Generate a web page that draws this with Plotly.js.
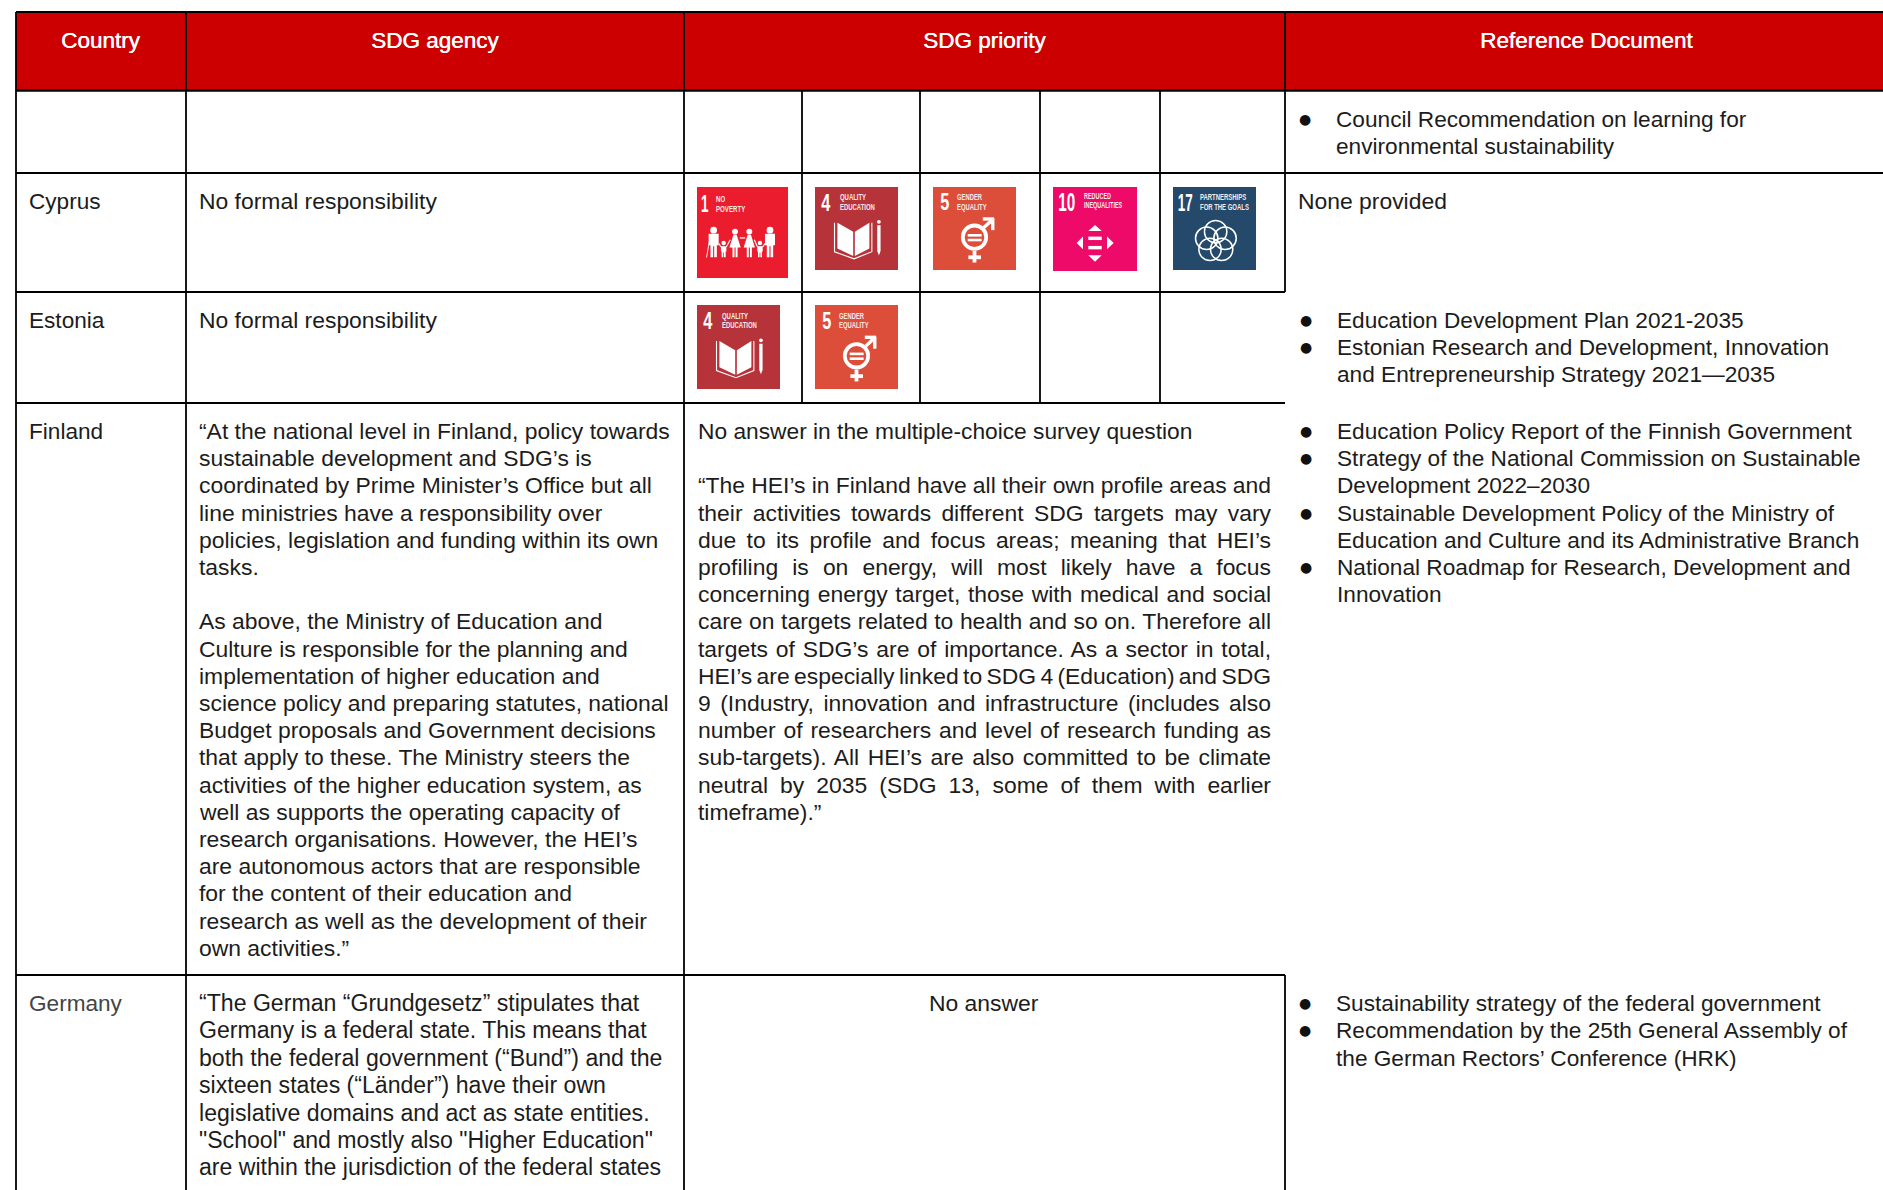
<!DOCTYPE html>
<html><head><meta charset="utf-8">
<script src="https://cdn.plot.ly/plotly-3.0.1.min.js"></script>
<style>html,body{margin:0;padding:0;background:#fff}#chart{width:1883px;height:1190px}</style>
</head><body><div id="chart"></div>
<script>
// ---------- content ----------
const headers = ['Country', 'SDG agency', 'SDG priority', 'Reference Document'];
const countries = ['Cyprus', 'Estonia', 'Finland', 'Germany'];
const agencyCyprus = ['No formal responsibility'];
const agencyEstonia = ['No formal responsibility'];
const agencyFinland = [
 '“At the national level in Finland, policy towards','sustainable development and SDG’s is',
 'coordinated by Prime Minister’s Office but all','line ministries have a responsibility over',
 'policies, legislation and funding within its own','tasks.','',
 'As above, the Ministry of Education and','Culture is responsible for the planning and',
 'implementation of higher education and','science policy and preparing statutes, national',
 'Budget proposals and Government decisions','that apply to these. The Ministry steers the',
 'activities of the higher education system, as','well as supports the operating capacity of',
 'research organisations. However, the HEI’s','are autonomous actors that are responsible',
 'for the content of their education and','research as well as the development of their','own activities.”'];
const agencyGermany = [
 '“The German “Grundgesetz” stipulates that','Germany is a federal state. This means that',
 'both the federal government (“Bund”) and the','sixteen states (“Länder”) have their own',
 'legislative domains and act as state entities.','"School" and mostly also "Higher Education"',
 'are within the jurisdiction of the federal states'];
const priorityFinlandLead = ['No answer in the multiple-choice survey question',''];
const priorityFinlandBody = [
 '“The HEI’s in Finland have all their own profile areas and','their activities towards different SDG targets may vary',
 'due to its profile and focus areas; meaning that HEI’s','profiling is on energy, will most likely have a focus',
 'concerning energy target, those with medical and social','care on targets related to health and so on. Therefore all',
 'targets of SDG’s are of importance. As a sector in total,','HEI’s are especially linked to SDG 4 (Education) and SDG',
 '9 (Industry, innovation and infrastructure (includes also','number of researchers and level of research funding as',
 'sub-targets). All HEI’s are also committed to be climate','neutral by 2035 (SDG 13, some of them with earlier'];
const priorityFinlandLast = ['timeframe).”'];
const priorityGermany = 'No answer';
const refsEU = [['Council Recommendation on learning for','environmental sustainability']];
const refsCyprus = 'None provided';
const refsEstonia = [['Education Development Plan 2021-2035'],
 ['Estonian Research and Development, Innovation','and Entrepreneurship Strategy 2021—2035']];
const refsFinland = [['Education Policy Report of the Finnish Government'],
 ['Strategy of the National Commission on Sustainable','Development 2022–2030'],
 ['Sustainable Development Policy of the Ministry of','Education and Culture and its Administrative Branch'],
 ['National Roadmap for Research, Development and','Innovation']];
const refsGermany = [['Sustainability strategy of the federal government'],
 ['Recommendation by the 25th General Assembly of','the German Rectors’ Conference (HRK)']];
const goalNumbers = ['1','4','5','10','17'];
const goalTitles = [['NO','POVERTY'],['QUALITY','EDUCATION'],['GENDER','EQUALITY'],['REDUCED','INEQUALITIES'],['PARTNERSHIPS','FOR THE GOALS']];
const goalColors = ['#EB1C2D','#B7333A','#DC4E3A','#EE0A69','#24496B'];
const cyprusGoals = [0,1,2,3,4];
const estoniaGoals = [1,2];

// ---------- layout constants ----------
const W=1883,H=1190;
const colX=[16,186,684,1285];
const subX=[802,920,1040,1160];
const rowY=[12,90.6,173,292,403,975];
const LH=27.2, LH_DE=27.38;
const FONT='"Liberation Sans", sans-serif', SIZE=22.9, SIZE_REF=22.65, SIZE_CTRY=22.6, INK='#1c1c1c';
const shapes=[], annotations=[], justified=[], condensed=[];
function line(x0,y0,x1,y1,w){shapes.push({type:'line',x0,y0,x1,y1,line:{color:'#000',width:w||1.8},layer:'above'});}
function txt(x,y,text,o){o=o||{};const a=o.anchor||'left';annotations.push({x,y,text,xref:'x',yref:'y',showarrow:false,
  xanchor:a,yanchor:'middle',align:a,borderpad:0,
  font:Object.assign({family:o.family||FONT,size:o.size||SIZE,color:o.color||INK,weight:o.weight||400},o.shadow?{shadow:o.shadow}:{})});
  return annotations.length-1;}
function block(x,y,lines,o){const lh=(o&&o.lh)||LH;lines.forEach((l,i)=>{if(l)txt(x,y+i*lh,l,o);});}
function bullets(xb,x,y,items,lh){lh=lh||LH;let n=0;items.forEach(it=>{txt(xb,y+n*lh,'●',{anchor:'center',size:14,family:'"DejaVu Sans",sans-serif',color:'#111'});
  it.forEach(l=>{txt(x,y+n*lh,l,{size:SIZE_REF});n++;});});}
function poly(pts,fill){shapes.push({type:'path',path:'M'+pts.map(p=>p.join(' ')).join('L')+'Z',fillcolor:fill,line:{width:0},layer:'above'});}

// header
shapes.push({type:'rect',x0:colX[0],x1:W,y0:rowY[0],y1:rowY[1],fillcolor:'#CC0000',line:{width:0},layer:'below'});
// grid
line(colX[0],rowY[0],W,rowY[0]);
line(colX[0],rowY[1],W,rowY[1],2.2);
line(colX[0],rowY[2],W,rowY[2]);
[3,4,5].forEach(i=>line(colX[0],rowY[i],colX[3],rowY[i]));
line(colX[0],rowY[0],colX[0],H);line(colX[1],rowY[0],colX[1],H);line(colX[2],rowY[0],colX[2],H);
line(colX[3],rowY[0],colX[3],rowY[3]);line(colX[3],rowY[5],colX[3],H);
subX.forEach(x=>line(x,rowY[1],x,rowY[4]));

// header text
const headCx=[100.5,434.5,984,1586];
headers.forEach((h,i)=>txt(headCx[i],40.3,h,{anchor:'center',color:'#fff',size:22.5,shadow:'0.5px 0 0 #fff'}));

// body text
const textX0=28, textX1=198, textX2=697, bx=1297;
[[countries[0],201],[countries[1],320],[countries[2],431],[countries[3],1003]].forEach((c,i)=>
  txt(textX0,c[1],c[0],{size:SIZE_CTRY,color:i===3?'#444':INK}));
block(textX1,201,agencyCyprus);block(textX1,320,agencyEstonia);block(textX1,431,agencyFinland);
block(textX1,1003,agencyGermany,{lh:LH_DE,size:23.1});
block(textX2,431,priorityFinlandLead,{size:22.75});
priorityFinlandBody.forEach((l,i)=>justified.push(txt(textX2,431+(i+2)*LH,l)));
block(textX2,431+14*LH,priorityFinlandLast);
txt(984,1003,priorityGermany,{anchor:'center'});
bullets(1305,1335,119,refsEU,27.4);
txt(bx,201,refsCyprus);
bullets(1306,1336,320,refsEstonia,27);
bullets(1306,1336,431,refsFinland);
bullets(1305,1335,1003,refsGermany,LH_DE);

// SDG icons: number and title placement inside each tile, as fractions of the tile
const numEndU=[.135,.21,.20,.27,.253], numV=[.18,.19,.18,.18,.185], numK=[.56,.68,.68,.58,.56], numSize=[22,24,24,26,24];
const labU=[.20,.285,.28,.36,.317], labV=[.125,.125,.125,.107,.125], labDV=[.115,.115,.113,.111,.116];
const labK=[.62,.66,.65,.6,.66];
function icon(goal,x,y,w,h){
  const c=goalColors[goal],s=w/83;
  shapes.push({type:'rect',x0:x,x1:x+w,y0:y,y1:y+h,fillcolor:c,line:{width:0},layer:'above'});
  condensed.push([txt(x+numEndU[goal]*w,y+numV[goal]*h,goalNumbers[goal],{anchor:'right',size:numSize[goal]*s,color:'#fff',weight:700}),numK[goal]]);
  goalTitles[goal].forEach((t,i)=>condensed.push([txt(x+labU[goal]*w,y+(labV[goal]+i*labDV[goal])*h,t,{size:9*s,color:'#f7e9e9',weight:700}),labK[goal]]));
  const P=(u,v)=>[x+u*w,y+v*h];
  const white='#fff';
  const ring=(u,v,r,lw)=>{const cx=x+u*w,cy=y+v*h;shapes.push({type:'circle',x0:cx-r*s,x1:cx+r*s,y0:cy-r*s,y1:cy+r*s,
     fillcolor:'rgba(0,0,0,0)',line:{color:white,width:lw*s},layer:'above'});};
  const dot=(u,v,r)=>{const cx=x+u*w,cy=y+v*h;shapes.push({type:'circle',x0:cx-r*s,x1:cx+r*s,y0:cy-r*s,y1:cy+r*s,fillcolor:white,line:{width:0},layer:'above'});};
  const bar=(u0,v0,u1,v1,lw)=>{shapes.push({type:'line',x0:x+u0*w,y0:y+v0*h,x1:x+u1*w,y1:y+v1*h,line:{color:white,width:lw*s},layer:'above'});};
  if(goal===0){ // family
    const foot=.773;
    const man=u=>{dot(u,.475,3.1);poly([P(u-.055,.515),P(u+.055,.515),P(u+.055,.64),P(u+.035,.64),P(u+.035,foot),P(u+.006,foot),P(u+.006,.65),P(u-.006,.65),P(u-.006,foot),P(u-.035,foot),P(u-.035,.64),P(u-.055,.64)],white);};
    const woman=u=>{dot(u,.49,2.7);poly([P(u-.018,.525),P(u+.018,.525),P(u+.062,.665),P(u+.028,.665),P(u+.028,foot),P(u+.006,foot),P(u+.006,.665),P(u-.006,.665),P(u-.006,foot),P(u-.028,foot),P(u-.028,.665),P(u-.062,.665)],white);};
    const kid=u=>{dot(u,.615,2);poly([P(u-.03,.65),P(u+.03,.65),P(u+.03,.71),P(u+.022,.71),P(u+.022,foot),P(u+.004,foot),P(u+.004,.72),P(u-.004,.72),P(u-.004,foot),P(u-.022,foot),P(u-.022,.71),P(u-.03,.71)],white);};
    man(.183);kid(.293);woman(.418);woman(.575);kid(.692);man(.802);
    bar(.135,.60,.105,.775,.8);
    bar(.238,.62,.265,.66,1);bar(.322,.66,.365,.58,1);bar(.47,.56,.53,.56,1.1);bar(.63,.58,.665,.66,1);bar(.72,.66,.75,.62,1);
  } else if(goal===1){ // book and pencil
    poly([P(.27,.43),P(.46,.54),P(.46,.83),P(.27,.74)],white);
    poly([P(.48,.54),P(.655,.43),P(.655,.74),P(.48,.83)],white);
    shapes.push({type:'path',path:'M'+P(.235,.43).join(' ')+'L'+P(.235,.78).join(' ')+'L'+P(.47,.865).join(' ')+'L'+P(.685,.78).join(' ')+'L'+P(.685,.43).join(' '),line:{color:white,width:1.1*s},layer:'above'});
    poly([P(.75,.46),P(.79,.46),P(.79,.77),P(.77,.825),P(.75,.77)],white);
    dot(.77,.42,1.9);
  } else if(goal===2){ // gender equality
    ring(.50,.605,11.7,3.8);
    bar(.418,.582,.586,.582,2.6);bar(.418,.639,.586,.639,2.6);
    bar(.50,.77,.50,.91,3.8);bar(.426,.847,.578,.847,3.8);
    bar(.61,.49,.72,.39,3.4);
    bar(.60,.385,.735,.385,3.4);bar(.72,.375,.72,.52,3.4);
  } else if(goal===3){ // reduced inequalities
    poly([P(.50,.452),P(.42,.524),P(.58,.524)],white);
    poly([P(.50,.889),P(.42,.813),P(.58,.813)],white);
    poly([P(.282,.666),P(.357,.59),P(.357,.742)],white);
    poly([P(.722,.666),P(.643,.59),P(.643,.742)],white);
    bar(.42,.611,.58,.611,3.4);bar(.42,.722,.58,.722,3.4);
  } else { // partnerships
    [[.514,.538],[.406,.618],[.627,.618],[.446,.751],[.586,.751]].forEach(p=>ring(p[0],p[1],11.2,1.5));
  }
}
const cyprusBoxes=[[697,187,91,91],[815,187,83,83],[933,187,83,83],[1053,187,84,84],[1173,187,83,83]];
const estoniaBoxes=[[697,305,83,84],[815,305,83,84]];
cyprusGoals.forEach((g,i)=>icon(g,...cyprusBoxes[i]));
estoniaGoals.forEach((g,i)=>icon(g,...estoniaBoxes[i]));

const layout={width:W,height:H,margin:{l:0,r:0,t:0,b:0},paper_bgcolor:'#fff',plot_bgcolor:'#fff',showlegend:false,
  xaxis:{range:[0,W],visible:false,fixedrange:true},yaxis:{range:[H,0],visible:false,fixedrange:true},
  shapes,annotations};
Plotly.newPlot('chart',[{x:[0,W],y:[0,H],mode:'markers',marker:{opacity:0},hoverinfo:'skip',type:'scatter'}],layout,{displayModeBar:false,staticPlot:true}).then(()=>{
  const q=i=>document.querySelector('.annotation[data-index="'+i+'"] text');
  // justify the flush lines of the SDG priority paragraph
  const targetW=573;
  justified.forEach(i=>{
    const el=q(i); if(!el)return;
    const gaps=(el.textContent.match(/ /g)||[]).length, w=el.getComputedTextLength();
    if(gaps)el.style.wordSpacing=((targetW-w)/gaps)+'px';
  });
  // the tile lettering is a condensed face
  condensed.forEach(([i,k])=>{
    const el=q(i); if(!el)return;
    el.setAttribute('textLength',el.getComputedTextLength()*k);
    el.setAttribute('lengthAdjust','spacingAndGlyphs');
  });
});
</script></body></html>
